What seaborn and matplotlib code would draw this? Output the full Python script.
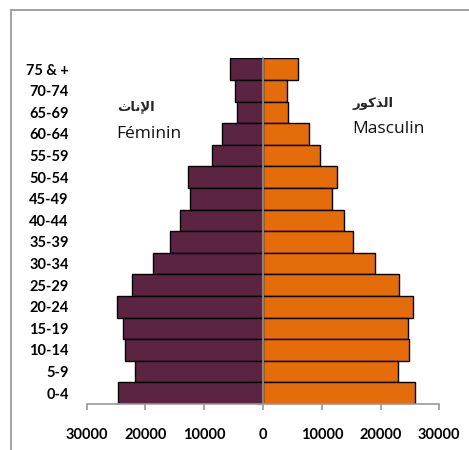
import matplotlib
matplotlib.use("Agg")
import matplotlib.pyplot as plt
from matplotlib.ticker import FixedLocator
from matplotlib.lines import Line2D
import seaborn as sns
import pandas as pd

age_groups = ["75 & +", "70-74", "65-69", "60-64", "55-59", "50-54", "45-49", "40-44",
              "35-39", "30-34", "25-29", "20-24", "15-19", "10-14", "5-9", "0-4"]
female = [5700, 4700, 4400, 7000, 8600, 12700, 12400, 14100,
          15900, 18800, 22300, 24900, 23800, 23400, 21800, 24700]
male = [5900, 4100, 4200, 7800, 9700, 12600, 11800, 13800,
        15300, 19100, 23200, 25500, 24600, 24900, 22900, 25900]
x_ticks = [-30000, -20000, -10000, 0, 10000, 20000, 30000]
x_tick_labels = ["30000", "20000", "10000", "0", "10000", "20000", "30000"]

# Arabic labels in presentation forms (visual order) so they render joined
label_f_ar = "\uFE99\uFE8E\uFEE7\uFEF9\uFE8D"   # الإناث
label_m_ar = "\uFEAD\uFEEE\uFEDB\uFEAC\uFEDF\uFE8D"  # الذكور
label_f = "Féminin"
label_m = "Masculin"

c_f = "#5B2542"
c_m = "#E46C0A"

df = pd.DataFrame({
    "age": age_groups * 2,
    "value": [-v for v in female] + male,
    "sex": ["F"] * len(female) + ["M"] * len(male),
})

W, H = 469, 450
sns.set_style("white")
plt.rcParams["font.family"] = ["Lato", "DejaVu Sans"]
fig = plt.figure(figsize=(W / 100, H / 100), dpi=100)
ax = fig.add_axes([86.7 / W, (H - 404) / H, (439.3 - 86.7) / W, (404 - 58.3) / H])

sns.barplot(data=df, x="value", y="age", hue="sex", order=age_groups,
            palette={"F": c_f, "M": c_m}, dodge=False, orient="h", saturation=1,
            width=1.0, edgecolor="black", linewidth=1.0, legend=False, ax=ax)

ax.set_xlim(-30000, 30000)
ax.set_ylim(len(age_groups) - 0.5, -0.5)
ax.set_xlabel("")
ax.set_ylabel("")
ax.set_xticks(x_ticks)
ax.set_xticklabels(x_tick_labels)

gray = "#9a9a9a"
for s in ["top", "left"]:
    ax.spines[s].set_visible(False)
ax.spines["bottom"].set_color(gray)
ax.spines["bottom"].set_linewidth(1.2)
ax.spines["right"].set_position(("data", 0))
ax.spines["right"].set_color(gray)
ax.spines["right"].set_linewidth(1.2)
ax.spines["right"].set_zorder(5)

ax.tick_params(axis="x", which="major", bottom=True, direction="out", length=4,
               color=gray, width=1.2, pad=13.5, labelsize=10.5, labelcolor="black")
ax.tick_params(axis="y", which="major", left=False, right=False, length=0, pad=13,
               labelsize=10.5, labelcolor="black")
ax.yaxis.set_minor_locator(FixedLocator([i + 0.5 for i in range(-1, len(age_groups))]))
ax.tick_params(axis="y", which="minor", left=False, right=True, direction="in",
               length=4, color=gray, width=1.0)

ax.set_facecolor("white")

# series labels
fig.text(117 / W, 1 - 107 / H, label_f_ar, family=["DejaVu Sans"], weight="bold",
         fontsize=9.5, ha="left", va="center")
fig.text(116 / W, 1 - 138 / H, label_f, family=["Open Sans", "DejaVu Sans"],
         fontsize=12.5, ha="left", va="baseline", color="#111111")
fig.text(352 / W, 1 - 103.5 / H, label_m_ar, family=["DejaVu Sans"], weight="bold",
         fontsize=9.5, ha="left", va="center")
fig.text(352 / W, 1 - 132.5 / H, label_m, family=["Open Sans", "DejaVu Sans"],
         fontsize=12.5, ha="left", va="baseline", color="#111111")

# outer chart-area frame (top and left edges visible)
fig.add_artist(Line2D([11 / W, 1.0], [1 - 10 / H, 1 - 10 / H], transform=fig.transFigure,
                      color=gray, linewidth=1.3))
fig.add_artist(Line2D([11 / W, 11 / W], [0.0, 1 - 10 / H], transform=fig.transFigure,
                      color=gray, linewidth=1.3))

for t in ax.get_xticklabels() + ax.get_yticklabels():
    t.set_fontfamily(["Lato", "DejaVu Sans"])
    t.set_fontweight("bold")

fig.savefig("out.png", dpi=100, facecolor="white")
